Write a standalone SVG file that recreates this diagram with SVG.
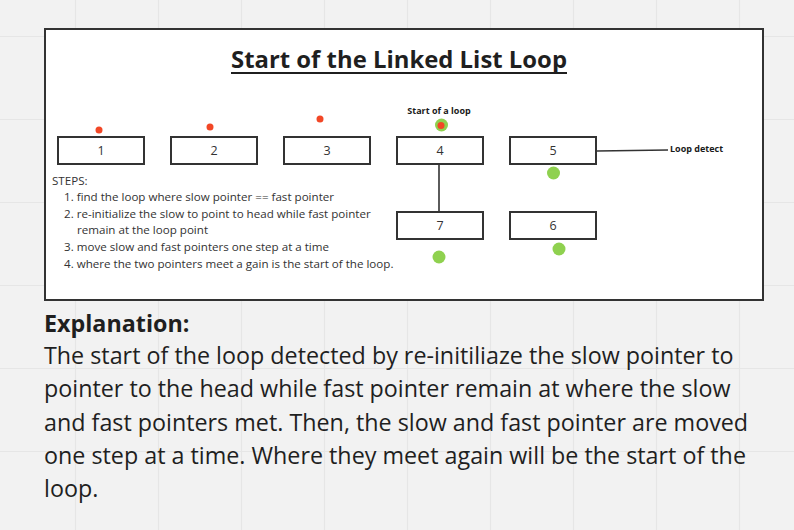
<svg xmlns="http://www.w3.org/2000/svg" width="794" height="530" viewBox="0 0 794 530">
<style>
.grid{stroke:#e6e6e6;stroke-width:1.2}
.node rect{fill:#fff;stroke:#333;stroke-width:2}
.node text{font-family:"Open Sans",sans-serif;font-size:12.5px;fill:#333;text-anchor:middle}
.conn{stroke:#333;stroke-width:1.6;fill:none}
.red{fill:#f24726}
.green{fill:#8fd14f}
.lbl{font-family:"Open Sans",sans-serif;font-weight:bold;font-size:9px;fill:#1a1a1a}
.steps{font-family:"Open Sans",sans-serif;font-size:11.6px;fill:#333}
.expl{font-family:"Open Sans",sans-serif;font-size:23.3px;fill:#1f1f1f}
</style>
<rect width="794" height="530" fill="#f2f2f2"/>
<g id="grid">
<path class="grid" d="M75.5 0V530M158.5 0V530M241.5 0V530M324.5 0V530M407.5 0V530M490.5 0V530M573.5 0V530M656.5 0V530M739.5 0V530M0 36.5H794M0 119.5H794M0 202.5H794M0 285.5H794M0 368.5H794M0 451.5H794"/>
</g>
<g id="frame">
<rect x="45" y="29" width="718" height="271" fill="#fff" stroke="#333" stroke-width="2"/>
<text x="399" y="68" text-anchor="middle" font-family="'Open Sans',sans-serif" font-weight="bold" font-size="23.9" fill="#1f1f1f" textLength="336" lengthAdjust="spacingAndGlyphs">Start of the Linked List Loop</text>
<rect x="231" y="72" width="336" height="2" fill="#1f1f1f"/>
</g>
<g id="connectors">
<line class="conn" x1="439" y1="164" x2="439" y2="211"/>
<line class="conn" x1="597" y1="151" x2="668" y2="150"/>
</g>
<g id="node1" class="node"><rect x="58" y="137" width="86" height="27"/><text x="101" y="155">1</text></g>
<g id="node2" class="node"><rect x="171" y="137" width="86" height="27"/><text x="214" y="155">2</text></g>
<g id="node3" class="node"><rect x="284" y="137" width="86" height="27"/><text x="327" y="155">3</text></g>
<g id="node4" class="node"><rect x="397" y="137" width="86" height="27"/><text x="440" y="155">4</text></g>
<g id="node5" class="node"><rect x="510" y="137" width="86" height="27"/><text x="553" y="155">5</text></g>
<g id="node7" class="node"><rect x="397" y="212" width="86" height="27"/><text x="440" y="230">7</text></g>
<g id="node6" class="node"><rect x="510" y="212" width="86" height="27"/><text x="553" y="230">6</text></g>
<g id="pointers">
<circle class="red" cx="99" cy="130" r="3.5"/>
<circle class="red" cx="210" cy="127" r="3.5"/>
<circle class="red" cx="320" cy="119" r="3.5"/>
<circle class="green" cx="441.5" cy="125" r="6.5"/>
<circle class="red" cx="441" cy="125.5" r="3.5"/>
<circle class="green" cx="553.5" cy="173" r="6.5"/>
<circle class="green" cx="439" cy="257" r="6.5"/>
<circle class="green" cx="559" cy="249" r="6.5"/>
</g>
<g id="labels">
<text class="lbl" x="439" y="114" text-anchor="middle">Start of a loop</text>
<text class="lbl" x="670" y="152">Loop detect</text>
</g>
<g id="steps" class="steps">
<text x="52" y="185">STEPS:</text>
<text x="64" y="201">1. find the loop where slow pointer == fast pointer</text>
<text x="64" y="218">2. re-initialize the slow to point to head while fast pointer</text>
<text x="77" y="234">remain at the loop point</text>
<text x="64" y="251">3. move slow and fast pointers one step at a time</text>
<text x="64" y="268">4. where the two pointers meet a gain is the start of the loop.</text>
</g>
<g id="explanation" class="expl">
<text x="44" y="332" font-weight="bold">Explanation:</text>
<text x="44" y="364">The start of the loop detected by re-initiliaze the slow pointer to</text>
<text x="44" y="397">pointer to the head while fast pointer remain at where the slow</text>
<text x="44" y="431">and fast pointers met. Then, the slow and fast pointer are moved</text>
<text x="44" y="464">one step at a time. Where they meet again will be the start of the</text>
<text x="44" y="497">loop.</text>
</g>
</svg>
